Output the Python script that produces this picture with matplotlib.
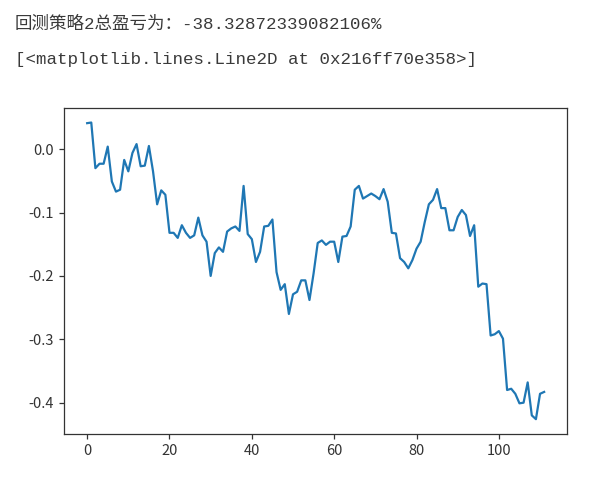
import matplotlib
matplotlib.use("Agg")
import matplotlib.pyplot as plt
import numpy as np

header_line1 = "回测策略2总盈亏为：-38.32872339082106%"
header_line2 = "[<matplotlib.lines.Line2D at 0x216ff70e358>]"

returns = [
    0.041, 0.042, -0.030, -0.023, -0.023, 0.004, -0.051, -0.067, -0.064, -0.017,
    -0.035, -0.006, 0.008, -0.027, -0.026, 0.005, -0.035, -0.087, -0.065, -0.072,
    -0.132, -0.132, -0.140, -0.120, -0.132, -0.140, -0.136, -0.108, -0.136, -0.146,
    -0.200, -0.164, -0.155, -0.162, -0.130, -0.125, -0.122, -0.129, -0.058, -0.134,
    -0.142, -0.178, -0.162, -0.122, -0.121, -0.111, -0.194, -0.222, -0.213, -0.260,
    -0.229, -0.225, -0.207, -0.207, -0.238, -0.196, -0.148, -0.144, -0.151, -0.146,
    -0.146, -0.178, -0.138, -0.137, -0.122, -0.064, -0.058, -0.078, -0.074, -0.070,
    -0.074, -0.079, -0.063, -0.083, -0.132, -0.133, -0.172, -0.178, -0.188, -0.175,
    -0.157, -0.146, -0.115, -0.087, -0.080, -0.063, -0.093, -0.093, -0.128, -0.128,
    -0.107, -0.096, -0.104, -0.137, -0.120, -0.217, -0.212, -0.213, -0.294, -0.292,
    -0.287, -0.299, -0.380, -0.378, -0.386, -0.401, -0.400, -0.368, -0.420, -0.426,
    -0.386, -0.383,
]

plt.rcParams['font.family'] = ['Noto Sans CJK SC', 'DejaVu Sans']
plt.rcParams['axes.unicode_minus'] = False

W, H = 612, 487
fig = plt.figure(figsize=(W / 100, H / 100), dpi=100)
fig.patch.set_facecolor('white')

text_font = ['Liberation Mono', 'Noto Sans CJK SC']
fig.text(15 / W, 1 - 29 / H, header_line1, family=text_font, fontsize=12.6,
         color='#3a3a3a', va='baseline', ha='left')
fig.text(15 / W, 1 - 64 / H, header_line2, family=text_font, fontsize=12.6,
         color='#3a3a3a', va='baseline', ha='left')

left, right, top, bottom = 64.3, 567, 107.7, 434
ax = fig.add_axes([left / W, 1 - bottom / H, (right - left) / W, (bottom - top) / H])
ax.plot(np.arange(len(returns)), returns, color='#1f77b4', linewidth=1.6)

for s in ax.spines.values():
    s.set_linewidth(0.9)
    s.set_color('#333333')
ax.tick_params(labelsize=10.5, length=3.7, width=0.9, pad=3.7, colors='#333333')
ax.set_xticks([0, 20, 40, 60, 80, 100])
ax.set_yticks([0.0, -0.1, -0.2, -0.3, -0.4])
ax.set_yticklabels(['0.0', '-0.1', '-0.2', '-0.3', '-0.4'])

fig.savefig("out.png", dpi=100)
